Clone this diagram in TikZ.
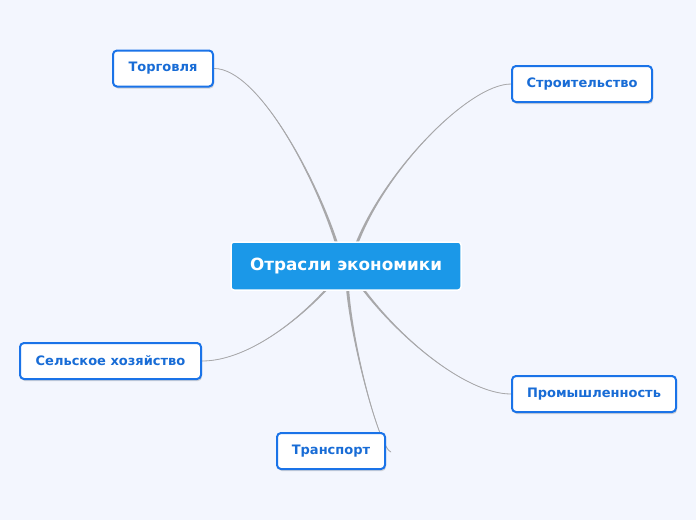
\documentclass[tikz,border=0pt]{standalone}
\usepackage{fontspec}
\setmainfont{DejaVu Sans}
\usetikzlibrary{calc,shadows}
\pgfdeclarelayer{bg}
\pgfsetlayers{bg,main}
\definecolor{bgc}{RGB}{243,246,254}
\definecolor{cenfill}{RGB}{27,152,232}
\definecolor{kidborder}{RGB}{26,115,232}
\definecolor{kidtext}{RGB}{24,108,214}
\definecolor{linec}{RGB}{168,168,170}
\tikzset{
  cen/.style={fill=cenfill, draw=white, line width=1.5pt, rounded corners=3pt,
    minimum width=230pt, minimum height=48pt, text=white, inner sep=0pt,
    font=\bfseries\fontsize{16.8}{19}\selectfont},
  kid/.style={fill=white, draw=kidborder, line width=2pt, rounded corners=4pt,
    minimum height=36pt, text=kidtext, inner sep=0pt,
    font=\bfseries\fontsize{13}{15}\selectfont,
    drop shadow={shadow xshift=1pt, shadow yshift=-2pt, opacity=0.25, fill=black!60}},
  connfill/.style={fill=linec},
  connline/.style={draw=linec, line width=0.8pt},
}
\newcommand{\myconn}[4]{%
  \fill[connfill] (#1) .. controls (#2) and ($(#3)+(-0.9,0)$) .. ($(#4)+(-1.6,0)$)
     -- ($(#4)+(1.6,0)$) .. controls ($(#3)+(0.9,0)$) and (#2) .. (#1) -- cycle;
  \draw[connline] (#1) .. controls (#2) and (#3) .. (#4);
}
\begin{document}
\begin{tikzpicture}[x=1pt,y=-1pt]
\useasboundingbox (0,0) rectangle (696,520);
\node[cen] (center) at (346,266) {Отрасли экономики};
\node[kid, minimum width=100pt] (torg) at (163,68.5) {Торговля};
\node[kid, minimum width=140pt] (stroi) at (582,84) {Строительство};
\node[kid, minimum width=181pt] (sel) at (110.5,361) {Сельское хозяйство};
\node[kid, minimum width=164pt] (prom) at (594,394) {Промышленность};
\node[kid, minimum width=108pt] (trans) at (331,451) {Транспорт};
\coordinate (tEnd) at ($(center.north)+(-7,10)$);
\coordinate (sEnd) at ($(center.north)+(8,10)$);
\coordinate (selEnd) at ($(center.south)+(-12,-10)$);
\coordinate (pEnd) at ($(center.south)+(11,-10)$);
\coordinate (trEnd) at ($(center.south)+(1,-10)$);
\coordinate (trStart) at ($(trans.east)+(5,1)$);
\begin{pgfonlayer}{bg}
\fill[bgc] (0,0) rectangle (696,520);
\myconn{torg.east}{258,68}{318,180}{tEnd}
\myconn{stroi.west}{468,84}{380,175}{sEnd}
\myconn{sel.east}{250,361}{305,315}{selEnd}
\myconn{prom.west}{465,394}{395,335}{pEnd}
\myconn{trStart}{380,450}{350,340}{trEnd}
\end{pgfonlayer}
\end{tikzpicture}
\end{document}
